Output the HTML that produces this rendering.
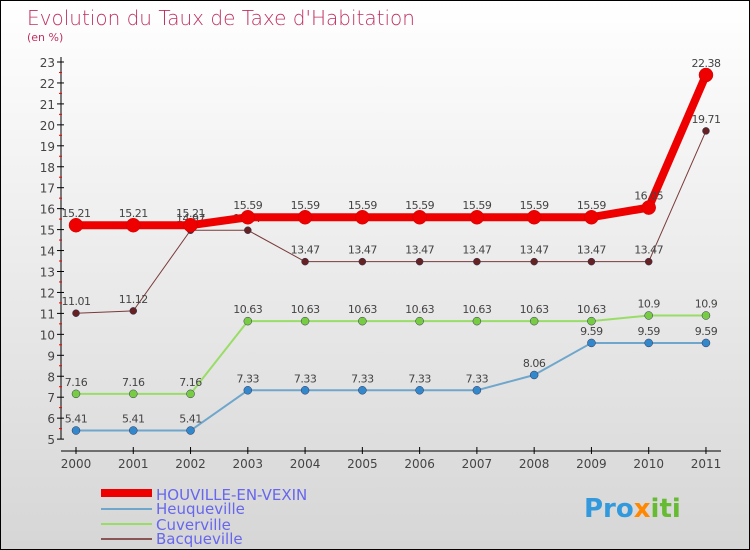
<!DOCTYPE html>
<html><head><meta charset="utf-8"><style>
body{margin:0}
#c{width:748px;height:548px;border:1px solid #000;background:linear-gradient(#ffffff,#d6d6d6);position:relative;font-family:"DejaVu Sans","Liberation Sans",sans-serif;overflow:hidden}
</style></head><body>
<div id="c">
<svg id="s" width="748" height="548" style="position:absolute;left:0;top:0">
<text x="26" y="24" font-size="20" fill="#c0305f" font-family="DejaVu Sans" font-weight="200">Evolution du Taux de Taxe d'Habitation</text>
<text x="26" y="40" font-size="11" fill="#c0305f">(en %)</text>
<g id="axes"></g><g id="series"></g>
<g>
<rect x="100" y="488" width="51" height="8" fill="#e00"/>
<text x="155" y="499" font-size="15" fill="#6666ee">HOUVILLE-EN-VEXIN</text>
<rect x="100" y="507" width="51" height="2" fill="#6fa6cc"/>
<text x="155" y="513" font-size="15" fill="#6666ee">Heuqueville</text>
<rect x="100" y="522" width="51" height="2" fill="#99dd66"/>
<text x="155" y="529" font-size="15" fill="#6666ee">Cuverville</text>
<rect x="100" y="537" width="51" height="2" fill="#8a5555"/>
<text x="155" y="543" font-size="15" fill="#6666ee">Bacqueville</text>
</g>
<text x="583" y="516" font-size="26" font-weight="bold" fill="#3399dd">Pro<tspan fill="#ff8800">x</tspan><tspan fill="#66bb33">iti</tspan></text>
</svg>
</div>
<script>
const years=[2000,2001,2002,2003,2004,2005,2006,2007,2008,2009,2010,2011];
const houville=[15.21,15.21,15.21,15.59,15.59,15.59,15.59,15.59,15.59,15.59,16.05,22.38];
const heuqueville=[5.41,5.41,5.41,7.33,7.33,7.33,7.33,7.33,8.06,9.59,9.59,9.59];
const cuverville=[7.16,7.16,7.16,10.63,10.63,10.63,10.63,10.63,10.63,10.63,10.9,10.9];
const bacqueville=[11.01,11.12,14.97,14.97,13.47,13.47,13.47,13.47,13.47,13.47,13.47,19.71];
const yTicks=[5,6,7,8,9,10,11,12,13,14,15,16,17,18,19,20,21,22,23];
const NS="http://www.w3.org/2000/svg";
const xs=i=>75+i*57.27;
const ys=v=>61+(23-v)*20.95;
function mk(tag,at,parent){const e=document.createElementNS(NS,tag);for(const k in at)e.setAttribute(k,at[k]);parent.appendChild(e);return e;}
const ax=document.getElementById('axes'),sg=document.getElementById('series');
const yl=mk('line',{x1:60,y1:56,x2:60,y2:438,stroke:'#000'},ax);


const xl=mk('line',{x1:60,y1:450,x2:720,y2:450,stroke:'#000'},ax);


yTicks.forEach(v=>{const y=ys(v);mk('line',{x1:56,y1:y,x2:63,y2:y,stroke:'#000'},ax);
 if(v<23)mk('line',{x1:58,y1:y-10.5,x2:61,y2:y-10.5,stroke:'#e00'},ax);
 const t=mk('text',{x:54,y:y+5,'font-size':12,fill:'#444','text-anchor':'end'},ax);t.textContent=v;
 
 });
years.forEach((yr,i)=>{const x=xs(i);mk('line',{x1:x,y1:446,x2:x,y2:453,stroke:'#000'},ax);
 const t=mk('text',{x:x,y:467,'font-size':12,fill:'#444','text-anchor':'middle'},ax);t.textContent=yr;
 
 });
function series(d,name,col,w,r,mcol){
 const g=mk('g',{},sg);
 
 
 mk('polyline',{points:d.map((v,i)=>xs(i)+','+ys(v)).join(' '),fill:'none',stroke:col,'stroke-width':w,'stroke-linejoin':'round'},g);
 d.forEach((v,i)=>{const c=mk('circle',{cx:xs(i),cy:ys(v),r:r,fill:mcol,stroke:col==='#ee0000'?'#c00':'#335','stroke-width':0.5},g);
  
  
  const t=mk('text',{x:xs(i),y:ys(v)-8,'font-size':11,fill:'#444','text-anchor':'middle','letter-spacing':'-0.5'},g);t.textContent=v;
  
  });
}
series(heuqueville,'heuqueville','#6fa6cc',2,4,'#3388cc');
series(cuverville,'cuverville','#99dd66',2,4,'#77cc44');
series(bacqueville,'bacqueville','#7a3a3a',1,3.5,'#662222');
series(houville,'houville','#ee0000',8,7,'#ee0000');
</script>
</body></html>
